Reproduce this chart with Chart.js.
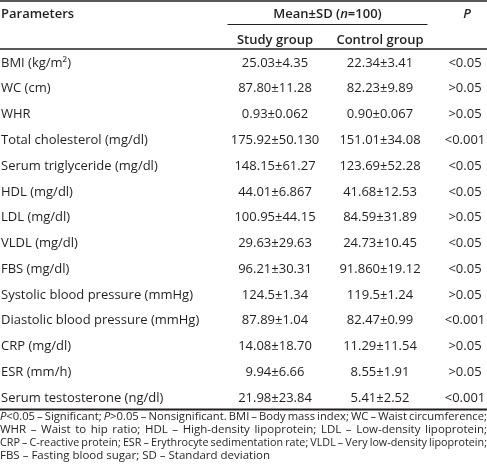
<!DOCTYPE html>
<html><head><meta charset="utf-8">
<script src="https://cdn.jsdelivr.net/npm/chart.js@4/dist/chart.umd.min.js"></script>
<style>html,body{margin:0;padding:0;background:#fff;}#wrap{width:487px;height:473px;position:relative}</style>
</head><body><div id="wrap"><canvas id="c"></canvas></div>
<script>
const parameters = ['BMI (kg/m²)', 'WC (cm)', 'WHR', 'Total cholesterol (mg/dl)', 'Serum triglyceride (mg/dl)', 'HDL (mg/dl)', 'LDL (mg/dl)', 'VLDL (mg/dl)', 'FBS (mg/dl)', 'Systolic blood pressure (mmHg)', 'Diastolic blood pressure (mmHg)', 'CRP (mg/dl)', 'ESR (mm/h)', 'Serum testosterone (ng/dl)'];
const studyMean = ['25.03','87.80','0.93','175.92','148.15','44.01','100.95','29.63','96.21','124.5','87.89','14.08','9.94','21.98'];
const studySD = ['4.35','11.28','0.062','50.130','61.27','6.867','44.15','29.63','30.31','1.34','1.04','18.70','6.66','23.84'];
const controlMean = ['22.34','82.23','0.90','151.01','123.69','41.68','84.59','24.73','91.860','119.5','82.47','11.29','8.55','5.41'];
const controlSD = ['3.41','9.89','0.067','34.08','52.28','12.53','31.89','10.45','19.12','1.24','0.99','11.54','1.91','2.52'];
const pValues = ['<0.05','>0.05','>0.05','<0.001','<0.05','<0.05','>0.05','<0.05','<0.05','>0.05','<0.001','>0.05','>0.05','<0.001'];
const columns = ['Study group', 'Control group', 'P'];
const headerParam = 'Parameters';
const headerGroup = ['Mean±SD (', '_n_', '=100)'];
const footnote = [
  '_P_<0.05 – Significant; _P_>0.05 – Nonsignificant. BMI – Body mass index; WC – Waist circumference;',
  'WHR – Waist to hip ratio; HDL – High-density lipoprotein; LDL – Low-density lipoprotein;',
  'CRP – C-reactive protein; ESR – Erythrocyte sedimentation rate; VLDL – Very low-density lipoprotein;',
  'FBS – Fasting blood sugar; SD – Standard deviation'
];

const TEXT = '#231f20';
const FAM = '"Open Sans", sans-serif';
const cellText = [
  studyMean.map((m, i) => m + '±' + studySD[i]),
  controlMean.map((m, i) => m + '±' + controlSD[i]),
  pValues
];

function font(size, italic, weight) { return (italic ? 'italic ' : '') + (weight || 400) + ' ' + size + 'px ' + FAM; }
function segs(word) { return word.split('_').map((t, k) => ({ t, it: k % 2 === 1 })).filter(s => s.t.length); }
function measureRich(ctx, word, size, weight) {
  let w = 0; segs(word).forEach(s => { ctx.font = font(size, s.it, weight); w += ctx.measureText(s.t).width; }); return w;
}
function drawRich(ctx, word, x, y, size, weight) {
  ctx.textAlign = 'left';
  segs(word).forEach(s => { ctx.font = font(size, s.it, weight); ctx.fillText(s.t, x, y); x += ctx.measureText(s.t).width; });
}
function drawLine(ctx, text, x0, y, width, size, justify) {
  const words = text.split(' ');
  const ws = words.map(w => measureRich(ctx, w, size));
  const total = ws.reduce((a, b) => a + b, 0);
  ctx.font = font(size); const sp = ctx.measureText(' ').width;
  let gap = justify ? (width - total) / (words.length - 1) : sp;
  let sx = 1;
  const minGap = sp * 0.7;
  if (justify && gap < minGap) { sx = (width - minGap * (words.length - 1)) / total; gap = minGap; }
  ctx.save();
  ctx.translate(x0, y); ctx.scale(sx, 1);
  let x = 0;
  words.forEach((w, i) => { drawRich(ctx, w, x, 0, size); x += ws[i] + gap / sx; });
  ctx.restore();
}

const tablePlugin = {
  id: 'table',
  afterDraw(chart, args, opts) {
    const ctx = chart.ctx;
    const W = chart.width;
    ctx.save();
    ctx.fillStyle = TEXT; ctx.strokeStyle = TEXT; ctx.textBaseline = 'middle';
    const colX = [];
    chart.data.datasets.forEach((ds, di) => {
      const meta = chart.getDatasetMeta(di);
      const shift = opts.colShift[di] || 0;
      ctx.font = font(13); ctx.textAlign = 'center';
      meta.data.forEach((el, i) => { ctx.fillText(ds.data[i].text, el.x + shift, el.y); colX[di] = el.x + shift; });
    });
    // headers
    const hs = 13, hw = 600;
    drawRich(ctx, headerParam, 1, opts.hy1, hs, hw);
    const gtxt = headerGroup.join('');
    const gw = measureRich(ctx, gtxt, hs, hw);
    const gc = (colX[0] + colX[1]) / 2;
    drawRich(ctx, gtxt, gc - gw / 2, opts.hy1, hs, hw);
    const pw = measureRich(ctx, '_P_', hs, hw);
    drawRich(ctx, '_P_', colX[2] - pw / 2 + 2, opts.hy1, hs, hw);
    [0, 1].forEach(k => {
      const w = measureRich(ctx, columns[k], hs, hw);
      drawRich(ctx, columns[k], colX[k] - w / 2, opts.hy2, hs, hw);
    });
    // rules
    const ca = chart.chartArea;
    ctx.lineWidth = 1.5; ctx.beginPath(); ctx.moveTo(0, 0.9); ctx.lineTo(W, 0.9); ctx.stroke();
    ctx.lineWidth = 1.3; ctx.beginPath(); ctx.moveTo(0, ca.top - 1); ctx.lineTo(W, ca.top - 1); ctx.stroke();
    ctx.lineWidth = 1; ctx.beginPath(); ctx.moveTo(gc - 100, 24.5); ctx.lineTo(gc + 100, 24.5); ctx.stroke();
    ctx.lineWidth = 2.2; ctx.beginPath(); ctx.moveTo(0, ca.bottom - 1.5); ctx.lineTo(W, ca.bottom - 1.5); ctx.stroke();
    // footnote
    footnote.forEach((line, i) => drawLine(ctx, line, 0, opts.fy + i * 13, W, 11.5, i < footnote.length - 1));
    ctx.restore();
  }
};

function build() {
  new Chart(document.getElementById('c'), {
    type: 'scatter',
    data: {
      datasets: columns.map((col, ci) => ({
        label: col,
        data: parameters.map((p, i) => ({ x: col, y: p, text: cellText[ci][i] })),
        pointRadius: 0, pointHoverRadius: 0, pointHitRadius: 0
      }))
    },
    options: {
      responsive: true, maintainAspectRatio: false, animation: false, devicePixelRatio: 1,
      layout: { padding: { top: 50, bottom: 62, left: 1, right: 22 } },
      events: [],
      plugins: {
        legend: { display: false }, tooltip: { enabled: false },
        table: { colShift: [0, 10, 0], hy1: 14, hy2: 40, fy: 417 }
      },
      scales: {
        x: { type: 'category', labels: columns, offset: false, display: false },
        y: {
          type: 'category', labels: parameters, offset: true,
          grid: { display: false }, border: { display: false },
          ticks: { autoSkip: false, crossAlign: 'far', color: TEXT, font: { family: FAM, size: 13 } },
          afterFit(s) { s.width = 274; }
        }
      }
    },
    plugins: [tablePlugin]
  });
}
Promise.all([
  document.fonts.load('13px "Open Sans"'),
  document.fonts.load('italic 13px "Open Sans"'),
  document.fonts.load('600 13px "Open Sans"')
]).catch(() => {}).then(build);
</script></body></html>
